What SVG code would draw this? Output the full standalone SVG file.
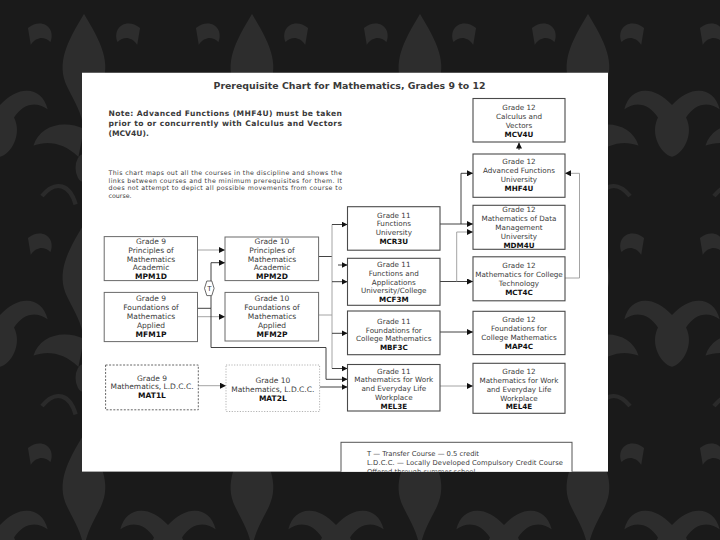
<svg xmlns="http://www.w3.org/2000/svg" width="720" height="540" viewBox="0 0 720 540">
<defs>
<pattern id="damask" x="0" y="0" width="120" height="150" patternUnits="userSpaceOnUse" patternTransform="scale(1.4)">
<rect width="120" height="150" fill="#1a1a1a"/>
<g fill="#2d2d2d">
<path d="M60 10 C72 30 80 45 72 62 C66 74 62 80 60 92 C58 80 54 74 48 62 C40 45 48 30 60 10 Z"/>
<path d="M60 92 C75 85 92 90 96 104 C86 100 74 102 64 112 Z"/>
<path d="M60 92 C45 85 28 90 24 104 C34 100 46 102 56 112 Z"/>
<ellipse cx="60" cy="120" rx="6" ry="10"/>
<path d="M0 75 C14 60 30 62 34 78 C26 72 16 74 10 84 C16 96 8 110 0 112 Z"/>
<path d="M120 75 C106 60 90 62 86 78 C94 72 104 74 110 84 C104 96 112 110 120 112 Z"/>
<path d="M20 20 C30 12 40 20 36 30 C32 26 26 26 22 32 Z"/>
<path d="M100 20 C90 12 80 20 84 30 C88 26 94 26 98 32 Z"/>
</g>
<g fill="none" stroke="#2a2a2a" stroke-width="3">
<path d="M30 140 C40 128 50 132 54 146"/>
<path d="M90 140 C80 128 70 132 66 146"/>
</g>
</pattern>
<clipPath id="panelClip"><rect x="82" y="72.5" width="526" height="399.3"/></clipPath>
<marker id="ah" viewBox="0 0 6 6" refX="6" refY="3" markerWidth="6" markerHeight="6" markerUnits="userSpaceOnUse" orient="auto">
<path d="M0 0 L6 3 L0 6 Z" fill="#111"/>
</marker>
</defs>
<style>
text{font-family:"DejaVu Sans","Verdana",sans-serif;fill:#3a3a3a}
.t{font-size:7.2px;text-anchor:middle}
.s{font-size:7.5px;text-anchor:middle}
.b{font-weight:bold;fill:#111}
.bx{fill:#fff;stroke:#4a4a4a;stroke-width:1.1}
.bx9{fill:#fff;stroke:#6a6a6a;stroke-width:1}
.ln{fill:none;stroke:#2e2e2e;stroke-width:0.9}
.lg{fill:none;stroke:#9a9a9a;stroke-width:0.9}
.ar{marker-end:url(#ah)}
</style>
<rect width="720" height="540" fill="url(#damask)"/>
<g clip-path="url(#panelClip)">
<rect x="82" y="72.5" width="526" height="399.3" fill="#fff"/>
<g id="header">
<text x="213.5" y="89" font-size="9.4" font-weight="bold" fill="#111" textLength="272" lengthAdjust="spacing">Prerequisite Chart for Mathematics, Grades 9 to 12</text>
<text x="108.5" y="116" font-size="7.6" font-weight="bold" fill="#111" textLength="233.5" lengthAdjust="spacing">Note: Advanced Functions (MHF4U) must be taken</text>
<text x="108.5" y="125.8" font-size="7.6" font-weight="bold" fill="#111" textLength="233.5" lengthAdjust="spacing">prior to or concurrently with Calculus and Vectors</text>
<text x="108.5" y="135.5" font-size="7.6" font-weight="bold" fill="#111">(MCV4U).</text>
<text x="108.5" y="175" font-size="6.3" fill="#333" textLength="233.5" lengthAdjust="spacing">This chart maps out all the courses in the discipline and shows the</text>
<text x="108.5" y="182.7" font-size="6.3" fill="#333" textLength="233.5" lengthAdjust="spacing">links between courses and the minimum prerequisites for them. It</text>
<text x="108.5" y="190.4" font-size="6.3" fill="#333" textLength="233.5" lengthAdjust="spacing">does not attempt to depict all possible movements from course to</text>
<text x="108.5" y="198" font-size="6.3" fill="#333">course.</text>
</g>
<g id="connectors">
<path class="lg ar" d="M197.5 250 H225"/>
<path class="ln" d="M197.5 308.3 H211 V296"/>
<path class="ln ar" d="M211 281 V262.7 H225"/>
<path class="lg ar" d="M197.5 316.7 H225"/>
<path class="ln ar" d="M211 308.3 V347.5 H326 V379.3 H347.5"/>
<path class="ln" d="M318.6 256.5 H332"/>
<path class="lg" d="M318.6 315 H332"/>
<path class="lg" d="M332 224.5 V368.5"/>
<path class="ln ar" d="M332 224.5 H347.5"/>
<path class="ln ar" d="M338 265 H347.5"/>
<path class="ln ar" d="M332 281.7 H347.5"/>
<path class="ln ar" d="M332 333.3 H347.5"/>
<path class="ln ar" d="M332 368.5 H347.5"/>
<path class="lg ar" d="M198.3 385.7 H226"/>
<path class="ln ar" d="M319.6 387 H347.5"/>
<path class="ln ar" d="M440 224 H473"/>
<path class="ln ar" d="M461 224 V173.3 H473"/>
<path class="ln ar" d="M440 281.5 H473"/>
<path class="lg ar" d="M456.7 281.5 V232 H473"/>
<path class="lg ar" d="M565 278 H579.5 V173.3 H565"/>
<path class="ln ar" d="M519 150 V142.5"/>
<path class="ln ar" d="M440 332 H473"/>
<path class="lg ar" d="M440 386 H473"/>
</g>
<g id="T">
<polygon points="204.5,288.3 206.8,281 211.8,281 214.1,288.3 211.8,295.6 206.8,295.6" fill="#fff" stroke="#444" stroke-width="0.8"/>
<text x="209.3" y="291" font-size="7" text-anchor="middle" fill="#222">T</text>
</g>
<g id="MPM1D">
<rect class="bx9" x="104.2" y="236.6" width="93.3" height="44"/>
<text class="s" x="151" y="244">Grade 9</text>
<text class="s" x="151" y="252.8">Principles of</text>
<text class="s" x="151" y="261.6">Mathematics</text>
<text class="s" x="151" y="270.4">Academic</text>
<text class="s b" x="151" y="279">MPM1D</text>
</g>
<g id="MFM1P">
<rect class="bx9" x="104.2" y="292.4" width="93.3" height="49.2"/>
<text class="s" x="151" y="301.3">Grade 9</text>
<text class="s" x="151" y="310.1">Foundations of</text>
<text class="s" x="151" y="318.9">Mathematics</text>
<text class="s" x="151" y="327.7">Applied</text>
<text class="s b" x="151" y="336.5">MFM1P</text>
</g>
<g id="MPM2D">
<rect class="bx9" x="225" y="237" width="93.6" height="43.6"/>
<text class="s" x="272" y="244">Grade 10</text>
<text class="s" x="272" y="252.8">Principles of</text>
<text class="s" x="272" y="261.6">Mathematics</text>
<text class="s" x="272" y="270.4">Academic</text>
<text class="s b" x="272" y="279">MPM2D</text>
</g>
<g id="MFM2P">
<rect class="bx9" x="225" y="292.4" width="93.6" height="48.6"/>
<text class="s" x="272" y="301.3">Grade 10</text>
<text class="s" x="272" y="310.1">Foundations of</text>
<text class="s" x="272" y="318.9">Mathematics</text>
<text class="s" x="272" y="327.7">Applied</text>
<text class="s b" x="272" y="336.5">MFM2P</text>
</g>
<g id="MAT1L">
<rect x="105.6" y="365" width="92.7" height="44.8" fill="#fff" stroke="#555" stroke-width="0.9" stroke-dasharray="2 1.5"/>
<text class="s" x="152" y="380.5">Grade 9</text>
<text class="s" x="152" y="389.3">Mathematics, L.D.C.C.</text>
<text class="s b" x="152" y="398.3">MAT1L</text>
</g>
<g id="MAT2L">
<rect x="226" y="365" width="93.6" height="46.5" fill="#fff" stroke="#aaa" stroke-width="0.9" stroke-dasharray="1.2 1.5"/>
<text class="s" x="272.8" y="383.2">Grade 10</text>
<text class="s" x="272.8" y="392">Mathematics, L.D.C.C.</text>
<text class="s b" x="272.8" y="400.8">MAT2L</text>
</g>
<g id="MCR3U">
<rect class="bx" x="347.5" y="206.7" width="92.5" height="43.5"/>
<text class="t" x="393.8" y="217.5">Grade 11</text>
<text class="t" x="393.8" y="226.4">Functions</text>
<text class="t" x="393.8" y="235.3">University</text>
<text class="t b" x="393.8" y="244.2">MCR3U</text>
</g>
<g id="MCF3M">
<rect class="bx" x="347.5" y="258.3" width="92.5" height="47"/>
<text class="t" x="393.8" y="266.7">Grade 11</text>
<text class="t" x="393.8" y="275.6">Functions and</text>
<text class="t" x="393.8" y="284.5">Applications</text>
<text class="t" x="393.8" y="293.4">University/College</text>
<text class="t b" x="393.8" y="302.2">MCF3M</text>
</g>
<g id="MBF3C">
<rect class="bx" x="347.5" y="311" width="92.5" height="43.7"/>
<text class="t" x="393.8" y="323.6">Grade 11</text>
<text class="t" x="393.8" y="332.5">Foundations for</text>
<text class="t" x="393.8" y="341.4">College Mathematics</text>
<text class="t b" x="393.8" y="350.3">MBF3C</text>
</g>
<g id="MEL3E">
<rect class="bx" x="347.5" y="364.5" width="92.5" height="46.5"/>
<text class="t" x="393.8" y="373.5">Grade 11</text>
<text class="t" x="393.8" y="382.4">Mathematics for Work</text>
<text class="t" x="393.8" y="391.3">and Everyday Life</text>
<text class="t" x="393.8" y="400.2">Workplace</text>
<text class="t b" x="393.8" y="409">MEL3E</text>
</g>
<g id="MCV4U">
<rect class="bx" x="473" y="98.5" width="92" height="43.5"/>
<text class="t" x="519" y="110">Grade 12</text>
<text class="t" x="519" y="118.8">Calculus and</text>
<text class="t" x="519" y="127.8">Vectors</text>
<text class="t b" x="519" y="136.8">MCV4U</text>
</g>
<g id="MHF4U">
<rect class="bx" x="473" y="154" width="92" height="43.3"/>
<text class="t" x="519" y="164.4">Grade 12</text>
<text class="t" x="519" y="173.4">Advanced Functions</text>
<text class="t" x="519" y="182.4">University</text>
<text class="t b" x="519" y="191.4">MHF4U</text>
</g>
<g id="MDM4U">
<rect class="bx" x="473" y="205.3" width="92" height="44"/>
<text class="t" x="519" y="212">Grade 12</text>
<text class="t" x="519" y="220.9">Mathematics of Data</text>
<text class="t" x="519" y="229.8">Management</text>
<text class="t" x="519" y="238.7">University</text>
<text class="t b" x="519" y="247.6">MDM4U</text>
</g>
<g id="MCT4C">
<rect class="bx" x="473" y="256.8" width="92" height="44"/>
<text class="t" x="519" y="267.8">Grade 12</text>
<text class="t" x="519" y="276.7">Mathematics for College</text>
<text class="t" x="519" y="285.6">Technology</text>
<text class="t b" x="519" y="294.5">MCT4C</text>
</g>
<g id="MAP4C">
<rect class="bx" x="473" y="311.3" width="92" height="43.3"/>
<text class="t" x="519" y="321.8">Grade 12</text>
<text class="t" x="519" y="330.8">Foundations for</text>
<text class="t" x="519" y="339.7">College Mathematics</text>
<text class="t b" x="519" y="348.6">MAP4C</text>
</g>
<g id="MEL4E">
<rect class="bx" x="473" y="363.3" width="92" height="50"/>
<text class="t" x="519" y="373.8">Grade 12</text>
<text class="t" x="519" y="382.7">Mathematics for Work</text>
<text class="t" x="519" y="391.6">and Everyday Life</text>
<text class="t" x="519" y="400.5">Workplace</text>
<text class="t b" x="519" y="409.3">MEL4E</text>
</g>
<g id="legend">
<rect x="341" y="442.3" width="231" height="40" fill="#fff" stroke="#555" stroke-width="1"/>
<text x="367" y="456" font-size="6.8" fill="#333">T — Transfer Course — 0.5 credit</text>
<text x="367" y="464.5" font-size="6.8" fill="#333" textLength="196" lengthAdjust="spacing">L.D.C.C. — Locally Developed Compulsory Credit Course</text>
<text x="367" y="473.5" font-size="6.8" fill="#333">Offered through summer school</text>
</g>
</g>
</svg>
